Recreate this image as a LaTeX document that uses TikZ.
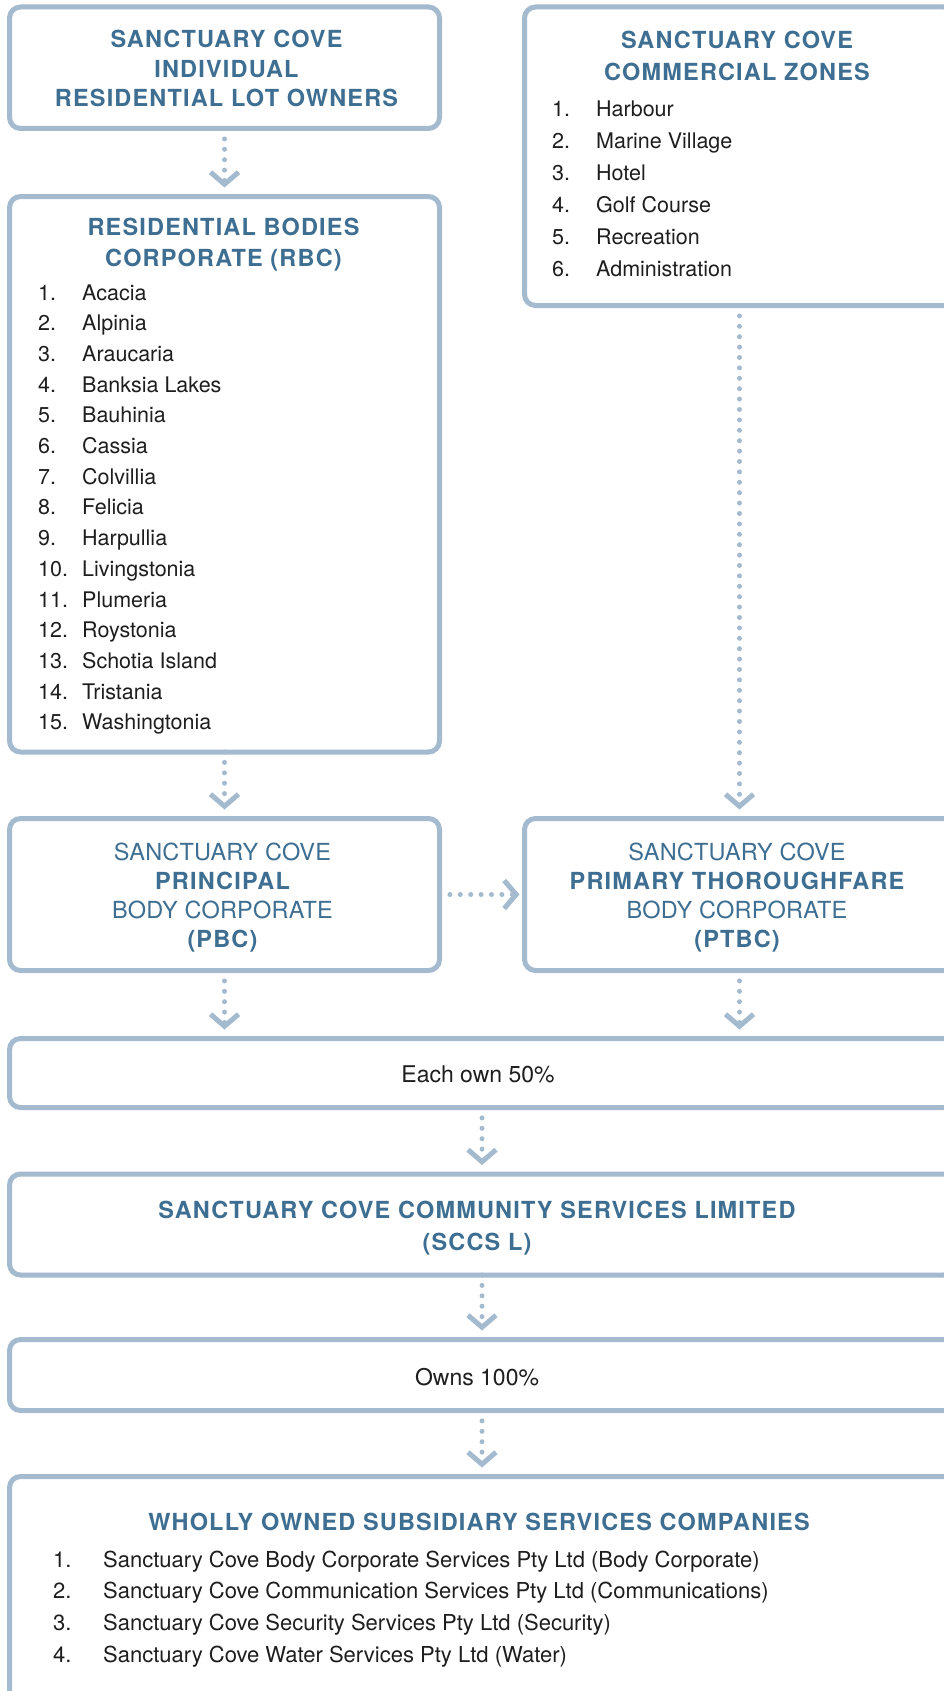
\documentclass[tikz,border=0pt]{standalone}
\usepackage{fontspec}
\setmainfont{TeX Gyre Heros}
\newfontfamily\headfont[LetterSpace=5]{TeX Gyre Heros}
\newfontfamily\headlight[LetterSpace=1]{TeX Gyre Heros}
\usetikzlibrary{arrows.meta}
\definecolor{edge}{HTML}{A4BACE}
\definecolor{ink}{HTML}{3E6F92}
\definecolor{body}{HTML}{1E1E1E}

\tikzset{
  box/.style={draw=edge, line width=5pt, rounded corners=11pt, fill=white,
    inner sep=0pt, outer sep=0pt},
  flow/.style={draw=edge, line width=5pt, line cap=round,
    dash pattern=on 0pt off 10.4pt,
    -{Straight Barb[length=12pt, width=28pt, line cap=butt, line join=miter]},
    shorten >=9pt},
  % headings: the node's base anchor sits on the last line
  head/.style={text=ink, align=center, anchor=base, inner sep=0pt,
    font=\headfont\bfseries\fontsize{23.5}{#1}\selectfont},
  head/.default=30,
  mixed/.style={text=ink, align=center, anchor=base, inner sep=0pt,
    font=\headlight\fontsize{23.5}{29}\selectfont},
  plain/.style={text=body, anchor=base, inner sep=0pt,
    font=\fontsize{23}{26}\selectfont},
  listing/.style 2 args={text=body, anchor=base west, inner sep=0pt,
    font=\fontsize{#1}{#2}\selectfont},
}
\newcommand{\boldpart}[1]{{\headfont\bfseries #1}}

\begin{document}
\begin{tikzpicture}[x=1pt,y=-1pt]
\useasboundingbox (0,0) rectangle (944,1691);

% boxes
\node[box, minimum width=430pt, minimum height=121.5pt] (rlo)  at (224.5,67.75) {};
\node[box, minimum width=430pt, minimum height=555.5pt] (rbc)  at (224.5,474.25) {};
\node[box, minimum width=430pt, minimum height=298.5pt] (czn)  at (739.5,156.25) {};
\node[box, minimum width=430pt, minimum height=152pt]   (pbc)  at (224.5,894.5) {};
\node[box, minimum width=430pt, minimum height=152pt]   (ptbc) at (739.5,894.5) {};
\node[box, minimum width=945pt, minimum height=69pt]    (each) at (482,1073) {};
\node[box, minimum width=945pt, minimum height=101pt]   (sccs) at (482,1224.5) {};
\node[box, minimum width=945pt, minimum height=71pt]    (owns) at (482,1375) {};
\node[box, minimum width=945pt, minimum height=263.5pt] (subs) at (482,1608.25) {};

% connectors
\draw[flow] (rlo.south) -- (rbc.north);
\draw[flow] (rbc.south) -- (pbc.north);
\draw[flow] (czn.south) -- (ptbc.north);
\draw[flow, shorten >=5pt] (pbc.east) -- (ptbc.west);
\draw[flow] (pbc.south) -- (pbc.south |- each.north);
\draw[flow] (ptbc.south) -- (ptbc.south |- each.north);
\draw[flow] (each.south) -- (sccs.north);
\draw[flow] (sccs.south) -- (owns.north);
\draw[flow] (owns.south) -- (subs.north);

% headings
\node[head=29.5] (rlo-t) at (226.5,107) {SANCTUARY COVE\\INDIVIDUAL\\RESIDENTIAL LOT OWNERS};
\node[head=31] (rbc-t) at (223.5,266) {RESIDENTIAL BODIES\\CORPORATE (RBC)};
\node[head=32] (czn-t) at (737,81) {SANCTUARY COVE\\COMMERCIAL ZONES};
\node[mixed] (pbc-t) at (222.5,947.5) {SANCTUARY COVE\\\boldpart{PRINCIPAL}\\BODY CORPORATE\\\boldpart{(PBC)}};
\node[mixed] (ptbc-t) at (737,947.5) {SANCTUARY COVE\\\boldpart{PRIMARY THOROUGHFARE}\\BODY CORPORATE\\\boldpart{(PTBC)}};
\node[plain] (each-t) at (478,1082) {Each own 50\%};
\node[head=32] (sccs-t) at (477,1250) {SANCTUARY COVE COMMUNITY SERVICES LIMITED\\(SCCS L)};
\node[plain] (owns-t) at (477,1385) {Owns 100\%};
\node[head] (subs-t) at (479,1530) {WHOLLY OWNED SUBSIDIARY SERVICES COMPANIES};

% lists
\node[listing={21.5}{30.7}] (rbc-l) at (38,300) {\begin{tabular}[t]{@{}p{44pt}@{}l@{}}
1. & Acacia\\ 2. & Alpinia\\ 3. & Araucaria\\ 4. & Banksia Lakes\\
5. & Bauhinia\\ 6. & Cassia\\ 7. & Colvillia\\ 8. & Felicia\\
9. & Harpullia\\ 10. & Livingstonia\\ 11. & Plumeria\\ 12. & Roystonia\\
13. & Schotia Island\\ 14. & Tristania\\ 15. & Washingtonia
\end{tabular}};
\node[listing={21.5}{31.9}] (czn-l) at (552,117) {\begin{tabular}[t]{@{}p{44pt}@{}l@{}}
1. & Harbour\\ 2. & Marine Village\\ 3. & Hotel\\
4. & Golf Course\\ 5. & Recreation\\ 6. & Administration
\end{tabular}};
\node[listing={22}{31.8}] (subs-l) at (53,1567) {\begin{tabular}[t]{@{}p{50pt}@{}l@{}}
1. & Sanctuary Cove Body Corporate Services Pty Ltd (Body Corporate)\\
2. & Sanctuary Cove Communication Services Pty Ltd (Communications)\\
3. & Sanctuary Cove Security Services Pty Ltd (Security)\\
4. & Sanctuary Cove Water Services Pty Ltd (Water)
\end{tabular}};
\end{tikzpicture}
\end{document}
